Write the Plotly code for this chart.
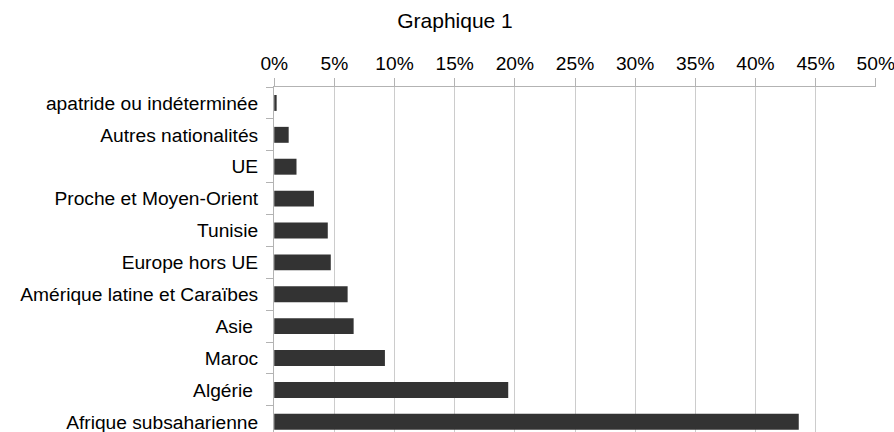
import plotly.graph_objects as go

categories = [
    "apatride ou indéterminée",
    "Autres nationalités",
    "UE",
    "Proche et Moyen-Orient",
    "Tunisie",
    "Europe hors UE",
    "Amérique latine et Caraïbes",
    "Asie ",
    "Maroc",
    "Algérie ",
    "Afrique subsaharienne",
]
values = [0.2, 1.2, 1.85, 3.3, 4.45, 4.7, 6.1, 6.6, 9.2, 19.45, 43.6]
x_ticks = [0, 5, 10, 15, 20, 25, 30, 35, 40, 45, 50]
x_labels = [f"{t}%" for t in x_ticks]

fig = go.Figure(
    go.Bar(
        x=values,
        y=categories,
        orientation="h",
        width=0.5,
        marker=dict(color="#333333", line=dict(width=0)),
    )
)

fig.update_layout(
    width=894,
    height=432,
    margin=dict(l=274, r=18, t=87, b=0, autoexpand=False),
    paper_bgcolor="white",
    plot_bgcolor="white",
    font=dict(family="Liberation Sans, Arial, sans-serif", size=19.2, color="#000000"),
    title=dict(
        text="Graphique 1",
        x=455 / 894,
        xanchor="center",
        y=1 - 21 / 432,
        yanchor="middle",
        font=dict(size=21, color="#000000"),
    ),
    showlegend=False,
)

fig.update_xaxes(
    side="top",
    range=[-0.02, 50.02],
    tickvals=x_ticks,
    ticktext=x_labels,
    showgrid=True,
    gridcolor="#cccccc",
    gridwidth=1,
    showline=True,
    linecolor="#b3b3b3",
    linewidth=1,
    ticks="outside",
    ticklen=8,
    tickcolor="#b3b3b3",
    ticklabeloverflow="allow",
    zeroline=False,
    automargin=False,
)

fig.update_yaxes(
    type="category",
    categoryorder="array",
    categoryarray=categories,
    range=[10.32, -0.5],
    showgrid=False,
    showline=True,
    linecolor="#b3b3b3",
    linewidth=1,
    ticks="outside",
    tickson="boundaries",
    ticklen=7,
    tickcolor="#b3b3b3",
    ticklabelstandoff=11,
    ticklabeloverflow="allow",
    zeroline=False,
    automargin=False,
)

fig.write_html(
    "out.html",
    config={"displayModeBar": False},
    post_script="document.body.style.margin='0';document.body.style.padding='0';",
)
